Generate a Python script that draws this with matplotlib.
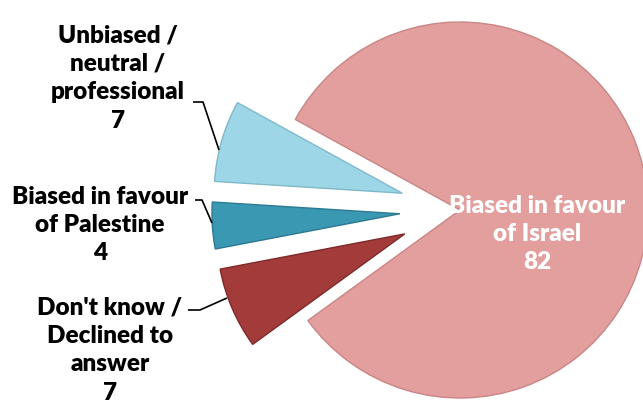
import matplotlib
matplotlib.use("Agg")
import matplotlib.pyplot as plt

# ---- data ----
categories = ["Biased in favour\nof Israel", "Unbiased /\nneutral /\nprofessional",
              "Biased in favour\nof Palestine", "Don't know /\nDeclined to\nanswer"]
values = [82, 7, 4, 7]

# ---- style ----
colors = ["#E39E9E", "#9DD7E7", "#3A98B3", "#A33B3B"]
edges = ["#C98686", "#7FB9CA", "#2C7A91", "#7E2A2A"]
explode = [0.0, 0.32, 0.32, 0.32]

W, H = 643, 403
S = 188.0              # pixels per radius unit
CX, CY = 460.0, 210.0  # pie centre in pixels (from top-left)

fig = plt.figure(figsize=(W / 100, H / 100), dpi=100)
ax = fig.add_axes([0, 0, 1, 1])
wedges, _ = ax.pie(values, explode=explode, colors=colors, startangle=216,
                   counterclock=True, radius=1.0,
                   wedgeprops=dict(linewidth=1.0))
for w, e in zip(wedges, edges):
    w.set_edgecolor(e)

ax.set_aspect("auto")
ax.set_xlim(-CX / S, (W - CX) / S)
ax.set_ylim(-(H - CY) / S, CY / S)
ax.axis("off")


def px(x, y):
    return (x - CX) / S, (CY - y) / S


font = dict(family=["Lato", "DejaVu Sans"], fontweight="heavy", fontsize=17.5,
            linespacing=1.36, ha="center", va="center")

# Israel label inside the big slice
ax.text(*px(537, 234), f"{categories[0]}\n{values[0]}", color="white", **font)

# Outer labels
ax.text(*px(118, 78), f"{categories[1]}\n{values[1]}", color="black", **font)
ax.text(*px(100, 225), f"{categories[2]}\n{values[2]}", color="black", **font)
ax.text(*px(110, 350), f"{categories[3]}\n{values[3]}", color="black", **font)

# leader lines
leaders = [
    [(193, 102), (203, 102), (219, 150)],
    [(195, 200), (202, 200), (212, 223)],
    [(188, 310), (200, 310), (227, 298)],
]
for pts in leaders:
    xs, ys = zip(*[px(*p) for p in pts])
    ax.plot(xs, ys, color="black", lw=1.2, solid_capstyle="butt")

fig.savefig("out.png", dpi=100)
